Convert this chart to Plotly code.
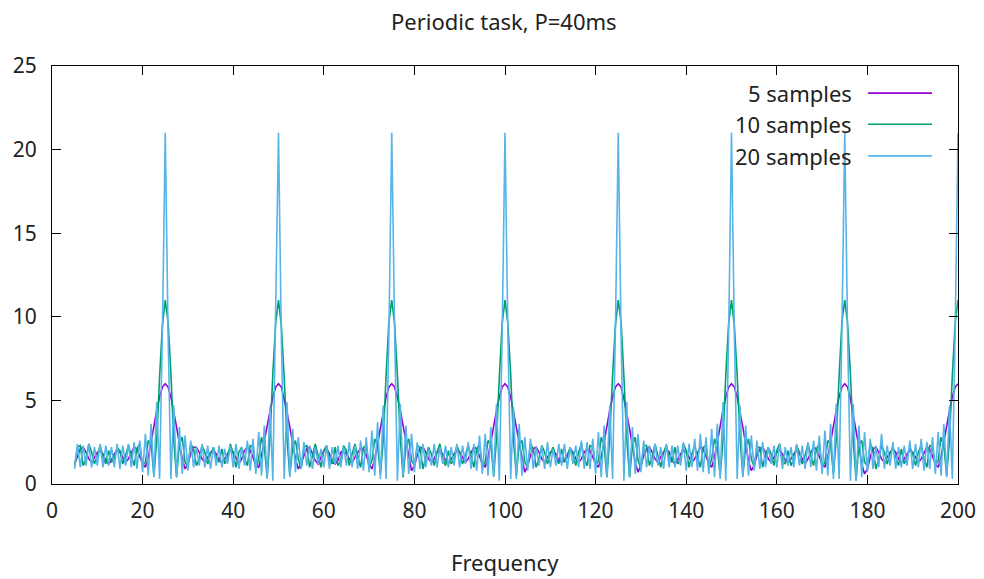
import numpy as np
import plotly.graph_objects as go

# frequency grid (Hz): 5 .. 200, step 0.625
freq_start, freq_stop = 5.0, 200.0

# |spectrum|, one list per series
s5 = (
    [1.2, 1.7, 2.1, 2.2, 1.9, 1.5, 1.3, 1.6, 1.9, 2.0, 1.8, 1.4]
    + [1.2, 1.4, 1.8, 2.0, 1.9, 1.6, 1.3, 1.5, 1.9, 2.2, 2.1, 1.7, 1.2, 1.0, 1.6, 2.5, 3.5, 4.4, 5.2, 5.8,
       6.0,
       5.8, 5.2, 4.4, 3.4, 2.4, 1.5, 0.9, 1.2, 1.8, 2.2, 2.2, 1.9, 1.5, 1.3, 1.6, 1.9, 2.0, 1.8, 1.4]
    + [1.3, 1.5, 1.8, 2.1, 1.9, 1.5, 1.2, 1.5, 2.0, 2.2, 2.0, 1.6, 1.1, 1.0, 1.7, 2.6, 3.5, 4.5, 5.2, 5.8,
       6.0,
       5.8, 5.1, 4.3, 3.4, 2.4, 1.5, 0.9, 1.2, 1.7, 2.1, 2.2, 1.8, 1.4, 1.2, 1.6, 2.0, 2.1, 1.8, 1.3]
    + [1.2, 1.4, 1.9, 2.0, 1.8, 1.5, 1.3, 1.6, 1.9, 2.1, 2.1, 1.7, 1.2, 0.9, 1.5, 2.4, 3.4, 4.4, 5.2, 5.8,
       6.0,
       5.8, 5.2, 4.4, 3.5, 2.5, 1.5, 0.8, 1.1, 1.7, 2.1, 2.2, 1.9, 1.5, 1.3, 1.5, 1.9, 2.0, 1.8, 1.4]
    + [1.2, 1.5, 1.8, 2.0, 1.9, 1.6, 1.3, 1.5, 1.9, 2.2, 2.1, 1.7, 1.2, 1.0, 1.6, 2.5, 3.5, 4.4, 5.2, 5.8,
       6.0,
       5.8, 5.2, 4.3, 3.4, 2.4, 1.4, 0.7, 1.1, 1.7, 2.1, 2.2, 1.9, 1.5, 1.3, 1.6, 1.9, 2.0, 1.8, 1.4]
    + [1.3, 1.4, 1.8, 2.1, 1.9, 1.5, 1.3, 1.5, 1.9, 2.1, 2.0, 1.6, 1.2, 1.0, 1.6, 2.5, 3.5, 4.4, 5.2, 5.8,
       6.0,
       5.8, 5.1, 4.3, 3.3, 2.3, 1.3, 0.7, 1.1, 1.7, 2.1, 2.2, 1.9, 1.5, 1.3, 1.6, 1.9, 2.1, 1.9, 1.4]
    + [1.2, 1.4, 1.8, 2.0, 1.9, 1.6, 1.3, 1.5, 1.9, 2.2, 2.1, 1.7, 1.2, 1.0, 1.6, 2.5, 3.5, 4.4, 5.2, 5.8,
       6.0,
       5.8, 5.2, 4.4, 3.4, 2.4, 1.4, 0.8, 1.1, 1.7, 2.1, 2.2, 1.9, 1.5, 1.3, 1.6, 1.9, 2.0, 1.8, 1.4]
    + [1.3, 1.5, 1.8, 2.0, 1.8, 1.5, 1.2, 1.5, 1.9, 2.2, 2.1, 1.7, 1.2, 1.0, 1.6, 2.5, 3.5, 4.4, 5.2, 5.8,
       6.0,
       5.8, 5.1, 4.2, 3.2, 2.2, 1.2, 0.6, 0.9, 1.6, 2.1, 2.2, 1.9, 1.5, 1.3, 1.6, 1.9, 2.1, 1.9, 1.5]
    + [1.3, 1.5, 1.8, 2.0, 1.9, 1.6, 1.3, 1.5, 1.9, 2.2, 2.1, 1.7, 1.2, 1.0, 1.6, 2.5, 3.5, 4.4, 5.2, 5.8,
       6.0]
)

s10 = (
    [1.1, 2.2, 2.3, 1.1, 1.5, 2.4, 1.9, 1.2, 1.7, 2.3, 1.6, 1.2]
    + [2.0, 1.3, 1.5, 2.2, 2.0, 1.2, 1.7, 2.3, 1.7, 1.1, 2.1, 2.4, 1.1, 1.3, 2.6, 2.4, 0.5, 2.7, 6.4, 9.5,
       11.0,
       9.7, 6.6, 2.6, 0.4, 2.4, 2.8, 1.3, 1.0, 2.4, 2.1, 1.1, 1.5, 2.3, 1.9, 1.2, 1.8, 2.2, 1.6, 1.3]
    + [2.1, 1.2, 1.6, 2.4, 1.8, 1.0, 1.9, 2.2, 1.5, 1.1, 2.3, 2.2, 0.9, 1.5, 2.8, 2.2, 0.4, 2.8, 6.6, 9.6,
       11.0,
       9.5, 6.4, 2.7, 0.5, 2.2, 2.6, 1.5, 0.9, 2.2, 2.3, 1.0, 1.7, 2.4, 1.7, 1.0, 2.0, 2.3, 1.4, 1.2]
    + [2.2, 1.1, 1.4, 2.3, 2.0, 1.1, 1.8, 2.4, 1.6, 1.0, 2.2, 2.3, 1.0, 1.4, 2.7, 2.3, 0.6, 2.6, 6.5, 9.7,
       11.0,
       9.6, 6.5, 2.8, 0.4, 2.3, 2.7, 1.4, 1.1, 2.3, 2.2, 0.9, 1.6, 2.2, 1.8, 1.1, 1.9, 2.4, 1.5, 1.1]
    + [2.0, 1.2, 1.5, 2.3, 1.9, 1.2, 1.7, 2.3, 1.7, 1.0, 2.1, 2.4, 1.0, 1.3, 2.6, 2.4, 0.5, 2.7, 6.4, 9.6,
       11.0,
       9.6, 6.6, 2.6, 0.5, 2.4, 2.6, 1.3, 1.0, 2.4, 2.1, 1.0, 1.5, 2.3, 1.9, 1.2, 1.8, 2.2, 1.6, 1.2]
    + [2.1, 1.3, 1.6, 2.2, 1.8, 1.1, 1.9, 2.4, 1.5, 1.1, 2.3, 2.2, 1.1, 1.4, 2.8, 2.3, 0.4, 2.8, 6.5, 9.5,
       11.0,
       9.7, 6.4, 2.7, 0.4, 2.3, 2.8, 1.4, 0.9, 2.3, 2.3, 1.1, 1.6, 2.4, 1.7, 1.0, 1.9, 2.3, 1.5, 1.3]
    + [2.2, 1.2, 1.4, 2.4, 2.0, 1.0, 1.8, 2.3, 1.6, 1.0, 2.2, 2.3, 0.9, 1.5, 2.7, 2.2, 0.5, 2.6, 6.6, 9.6,
       11.0,
       9.5, 6.5, 2.8, 0.5, 2.2, 2.7, 1.5, 1.0, 2.2, 2.2, 1.0, 1.7, 2.2, 1.8, 1.1, 2.0, 2.4, 1.4, 1.2]
    + [2.0, 1.1, 1.5, 2.3, 1.9, 1.2, 1.7, 2.4, 1.7, 1.1, 2.1, 2.4, 1.0, 1.3, 2.6, 2.4, 0.6, 2.7, 6.4, 9.7,
       11.0,
       9.6, 6.6, 2.6, 0.2, 2.4, 2.6, 1.3, 1.1, 2.4, 2.1, 0.9, 1.5, 2.3, 1.9, 1.2, 1.8, 2.2, 1.6, 1.1]
    + [2.1, 1.2, 1.6, 2.2, 1.8, 1.1, 1.9, 2.3, 1.5, 1.0, 2.3, 2.2, 1.1, 1.4, 2.8, 2.3, 0.5, 2.7, 6.5, 9.6,
       11.0]
)

s20 = (
    [0.9, 2.4, 1.0, 2.3, 1.1, 2.4, 1.0, 2.2, 1.1, 2.4, 1.0, 2.3]
    + [1.1, 2.2, 1.0, 2.4, 0.9, 2.3, 1.1, 2.4, 1.0, 2.5, 0.9, 2.6, 0.7, 3.0, 0.5, 3.6, 0.4, 4.9, 0.3, 9.2,
       21.0,
       9.0, 0.3, 4.7, 0.4, 3.4, 0.6, 2.9, 0.8, 2.6, 1.0, 2.2, 1.1, 2.4, 1.0, 2.3, 0.9, 2.2, 1.1, 2.3]
    + [1.0, 2.1, 1.2, 2.3, 1.0, 2.4, 0.9, 2.2, 1.1, 2.6, 0.8, 2.7, 0.6, 3.1, 0.5, 3.5, 0.3, 4.6, 0.2, 9.4,
       21.0,
       8.8, 0.3, 4.9, 0.4, 3.3, 0.7, 2.8, 0.9, 2.5, 1.1, 2.3, 0.9, 2.2, 1.2, 2.1, 1.0, 2.3, 0.9, 2.2]
    + [1.2, 2.3, 1.0, 2.2, 1.1, 2.5, 1.0, 2.3, 0.9, 2.6, 0.8, 2.8, 0.7, 3.2, 0.5, 3.7, 0.3, 4.7, 0.3, 9.1,
       21.0,
       9.3, 0.2, 4.8, 0.5, 3.5, 0.6, 3.0, 0.7, 2.5, 0.9, 2.4, 1.0, 2.1, 1.1, 2.4, 1.0, 2.2, 1.2, 2.3]
    + [1.0, 2.2, 1.1, 2.4, 1.0, 2.3, 1.2, 2.5, 0.9, 2.4, 0.8, 2.9, 0.6, 3.0, 0.5, 3.4, 0.4, 4.8, 0.2, 9.0,
       21.0,
       9.2, 0.3, 4.6, 0.3, 3.6, 0.5, 2.8, 0.8, 2.7, 0.9, 2.2, 1.1, 2.3, 0.9, 2.5, 1.0, 2.1, 1.1, 2.4]
    + [1.1, 2.4, 0.9, 2.2, 1.2, 2.3, 1.0, 2.6, 0.9, 2.5, 0.9, 2.7, 0.6, 3.1, 0.4, 3.5, 0.4, 4.7, 0.3, 9.3,
       21.0,
       8.9, 0.2, 4.9, 0.4, 3.4, 0.6, 3.0, 0.7, 2.6, 1.0, 2.3, 1.0, 2.4, 1.1, 2.2, 0.9, 2.4, 1.0, 2.3]
    + [1.0, 2.3, 1.1, 2.5, 0.8, 2.4, 1.0, 2.7, 0.8, 3.0, 0.7, 2.8, 0.6, 3.3, 0.4, 3.6, 0.3, 4.9, 0.2, 9.1,
       21.0,
       9.1, 0.3, 4.7, 0.4, 3.5, 0.5, 2.9, 0.8, 2.6, 0.9, 2.5, 1.0, 2.2, 1.2, 2.3, 1.0, 2.4, 0.9, 2.2]
    + [1.1, 2.2, 1.0, 2.4, 1.1, 2.3, 0.9, 2.5, 1.0, 2.6, 0.8, 2.9, 0.6, 3.2, 0.5, 3.6, 0.3, 4.8, 0.3, 9.2,
       21.0,
       9.0, 0.2, 4.8, 0.2, 3.5, 0.4, 3.1, 0.7, 2.7, 0.9, 2.3, 1.0, 3.0, 0.9, 2.3, 1.1, 2.5, 0.9, 2.2]
    + [1.0, 2.3, 1.1, 2.6, 0.9, 2.4, 1.0, 2.7, 0.8, 2.5, 0.9, 2.8, 0.6, 3.1, 0.5, 3.6, 0.4, 4.7, 0.3, 9.1,
       21.0]
)

series_names = ["5 samples", "10 samples", "20 samples"]
series_values = [s5, s10, s20]
series_colors = ["#9400d3", "#009e73", "#56b4e9"]

x_ticks = [0, 20, 40, 60, 80, 100, 120, 140, 160, 180, 200]
y_ticks = [0, 5, 10, 15, 20, 25]

FONT = "Noto Sans"
TXT = "#222222"
FS = 22

fig = go.Figure()
for name, vals, col in zip(series_names, series_values, series_colors):
    xs = np.linspace(freq_start, freq_stop, len(vals))
    fig.add_trace(go.Scatter(x=xs, y=vals, mode="lines", name=name,
                             line=dict(color=col, width=1.6), showlegend=False))

axis_common = dict(showline=True, linecolor="black", linewidth=1, mirror="ticks",
                   ticks="inside", ticklen=9, tickcolor="black", tickwidth=1,
                   showgrid=False, zeroline=False, automargin=False,
                   tickfont=dict(family=FONT, size=FS - 1, color=TXT))

fig.update_layout(
    width=984, height=579,
    margin=dict(l=52, r=26, t=66, b=95, autoexpand=False),
    paper_bgcolor="white", plot_bgcolor="white",
    title=dict(text="Periodic task, P=40ms", x=0.512, xanchor="center",
               y=0.962, yanchor="middle",
               font=dict(family=FONT, size=FS, color=TXT)),
    xaxis=dict(range=[0, 200], tickvals=x_ticks, ticklabelstandoff=8, **axis_common),
    yaxis=dict(range=[0, 25], tickvals=y_ticks, ticklabelstandoff=10, **axis_common),
)

fig.add_annotation(xref="paper", yref="paper", x=0.5, y=-0.1866, text="Frequency",
                   showarrow=False, xanchor="center", yanchor="middle",
                   font=dict(family=FONT, size=FS, color=TXT))

# gnuplot-style key: right-aligned label, then line sample
key_y = [0.935, 0.8605, 0.785]
for name, col, ky in zip(series_names, series_colors, key_y):
    fig.add_annotation(xref="paper", yref="paper", x=0.8852, y=ky, text=name,
                       showarrow=False, xanchor="right", yanchor="middle",
                       font=dict(family=FONT, size=FS, color=TXT))
    fig.add_shape(type="line", xref="paper", yref="paper", x0=0.9007, x1=0.9713,
                  y0=ky, y1=ky, line=dict(color=col, width=1.6))

fig.write_html("out.html")
